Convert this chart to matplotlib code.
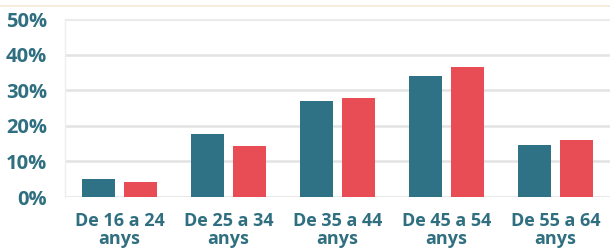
import matplotlib
matplotlib.use("Agg")
import matplotlib.pyplot as plt
import numpy as np
from matplotlib.lines import Line2D

categories = ["De 16 a 24\nanys", "De 25 a 34\nanys", "De 35 a 44\nanys", "De 45 a 54\nanys", "De 55 a 64\nanys"]
series_a = [5.0, 17.7, 27.1, 33.9, 14.7]
series_b = [4.2, 14.3, 27.7, 36.5, 16.0]
yticks = [0, 10, 20, 30, 40, 50]
ytick_labels = ["0%", "10%", "20%", "30%", "40%", "50%"]

teal = "#2f7286"
red = "#e84c55"
txt = "#2f6f80"

fig = plt.figure(figsize=(6.10, 2.49), dpi=100)
ax = fig.add_axes([65/610, 52/249, 545/610, 178/249])

x = np.arange(len(categories))
w = 0.30
off = 0.193
ax.bar(x - off, series_a, width=w, color=teal, zorder=3)
ax.bar(x + off, series_b, width=w, color=red, zorder=3)

ax.set_xlim(-0.5, len(categories) - 0.5)
ax.set_ylim(0, 50)
ax.set_yticks(yticks)
ax.set_yticklabels(ytick_labels)
ax.set_xticks(x)
ax.set_xticklabels(categories, linespacing=1.0)
for t in ax.get_yticklabels() + ax.get_xticklabels():
    t.set_fontfamily("Open Sans")
    t.set_fontweight("bold")
    t.set_color(txt)
for t in ax.get_yticklabels():
    t.set_fontsize(14.5)
for t in ax.get_xticklabels():
    t.set_fontsize(13)
ax.tick_params(axis="both", length=0)
ax.tick_params(axis="y", pad=13)
ax.tick_params(axis="x", pad=11)

ax.grid(axis="y", color="#e3e3e3", linewidth=1.8, zorder=0)
for s in ["right", "bottom"]:
    ax.spines[s].set_visible(False)
for s in ["left", "top"]:
    ax.spines[s].set_color("#eeeeee")
    ax.spines[s].set_linewidth(1.0)

fig.add_artist(Line2D([0, 1], [1 - 6/249, 1 - 6/249], transform=fig.transFigure,
                      color="#f3ead8", linewidth=1.2))

fig.savefig("out.png", dpi=100, facecolor="white")
